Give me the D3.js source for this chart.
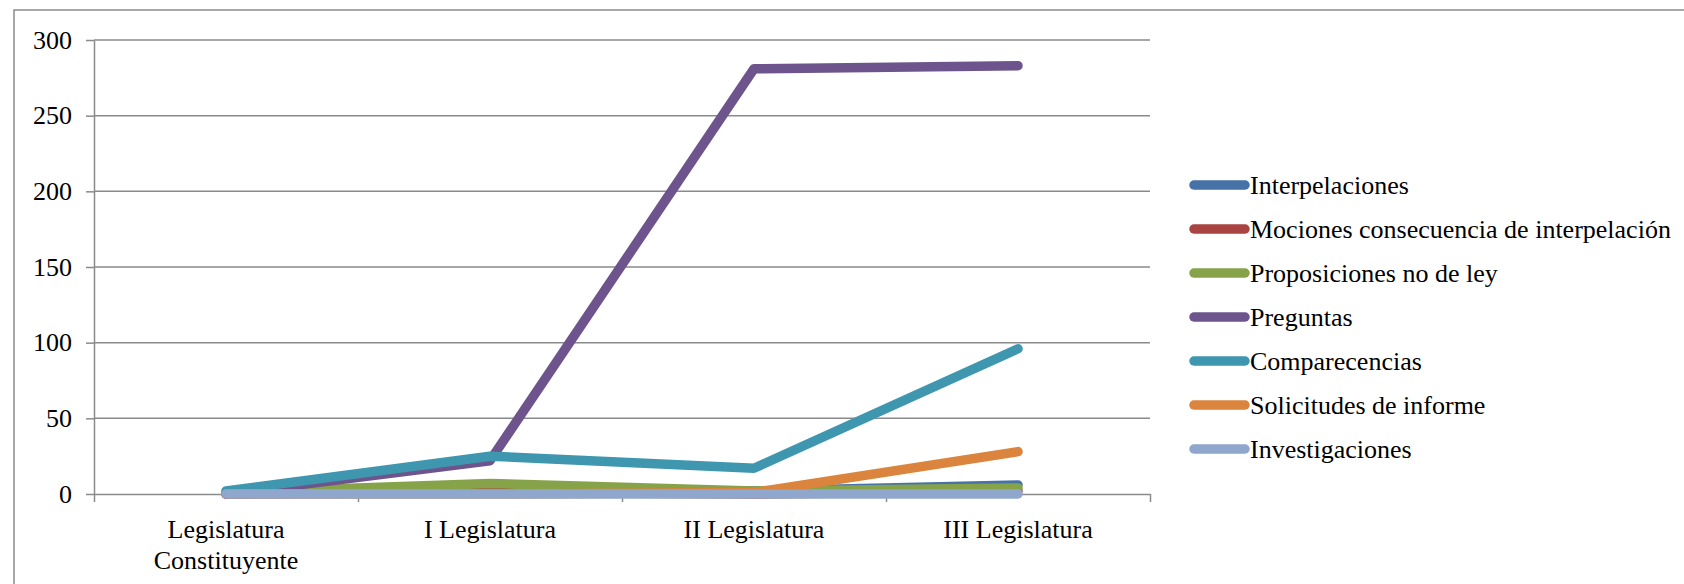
<!DOCTYPE html>
<html>
<head>
<meta charset="utf-8">
<script src="https://cdn.jsdelivr.net/npm/d3@7"></script>
<style>
  html, body { margin: 0; padding: 0; background: #fff; }
  svg { display: block; }
  text { font-family: "Liberation Serif", "Times New Roman", serif; fill: #000; }
</style>
</head>
<body>
<svg id="chart" width="1684" height="584"></svg>
<script>
// Legislative periods on the x axis
const categories = [["Legislatura", "Constituyente"], ["I Legislatura"], ["II Legislatura"], ["III Legislatura"]];

// Control instruments, one series each
const seriesNames = [
  "Interpelaciones",
  "Mociones consecuencia de interpelación",
  "Proposiciones no de ley",
  "Preguntas",
  "Comparecencias",
  "Solicitudes de informe",
  "Investigaciones"
];
const interpelaciones = [0, 2, 2, 6];
const mociones = [0, 1, 0, 2];
const proposiciones = [1, 7, 2, 4];
const preguntas = [0, 22, 281, 283];
const comparecencias = [2, 25, 17, 96];
const solicitudes = [0, 0, 1, 28];
const investigaciones = [0, 0, 0, 0];
const seriesValues = [interpelaciones, mociones, proposiciones, preguntas, comparecencias, solicitudes, investigaciones];
const seriesColors = ["#4672A8", "#A94442", "#87A34A", "#6E548D", "#3F97AF", "#DB843D", "#8FA7CC"];

const yTicks = [0, 50, 100, 150, 200, 250, 300];

const svg = d3.select("#chart");
const plotLeft = 94, plotRight = 1150, plotTop = 40, plotBottom = 494;
const gray = "#8a8a8a";

// outer frame
svg.append("rect")
  .attr("x", 14).attr("y", 10).attr("width", 1720).attr("height", 620)
  .attr("fill", "none").attr("stroke", gray).attr("stroke-width", 1.5);

const x = d3.scaleBand().domain(d3.range(categories.length)).range([plotLeft, plotRight]);
const y = d3.scaleLinear().domain([0, 300]).range([plotBottom, plotTop]);

// horizontal gridlines
svg.append("g").selectAll("line").data(yTicks.filter(t => t > 0)).join("line")
  .attr("x1", plotLeft).attr("x2", plotRight)
  .attr("y1", d => y(d)).attr("y2", d => y(d))
  .attr("stroke", gray).attr("stroke-width", 1.5);

// y axis
const yAxis = svg.append("g").attr("transform", `translate(${plotLeft},0)`)
  .call(d3.axisLeft(y).tickValues(yTicks).tickSize(8).tickPadding(14).tickSizeOuter(0));
yAxis.select(".domain").attr("stroke", gray).attr("stroke-width", 1.5);
yAxis.selectAll(".tick line").attr("stroke", gray).attr("stroke-width", 1.5);
yAxis.selectAll(".tick text").attr("font-size", 26).attr("font-family", "Liberation Serif").attr("fill", "#000");

// x axis with tick marks at category boundaries
const xb = d3.scaleLinear().domain([0, categories.length]).range([plotLeft, plotRight]);
const xAxis = svg.append("g").attr("transform", `translate(0,${plotBottom})`)
  .call(d3.axisBottom(xb).tickValues(d3.range(categories.length + 1)).tickSize(8).tickFormat("").tickSizeOuter(0));
xAxis.select(".domain").attr("stroke", gray).attr("stroke-width", 1.5);
xAxis.selectAll(".tick line").attr("stroke", gray).attr("stroke-width", 1.5);

// category labels
const cx = i => x(i) + x.bandwidth() / 2;
const lab = svg.append("g").selectAll("text").data(categories).join("text")
  .attr("x", (d, i) => cx(i)).attr("y", 538)
  .attr("text-anchor", "middle").attr("font-size", 26);
lab.selectAll("tspan").data(d => d).join("tspan")
  .attr("x", function () { return d3.select(this.parentNode).attr("x"); })
  .attr("dy", (d, i) => i === 0 ? 0 : 31)
  .text(d => d);

// series lines
const line = d3.line().x((d, i) => cx(i)).y(d => y(d));
svg.append("g").selectAll("path").data(seriesValues).join("path")
  .attr("d", d => line(d))
  .attr("fill", "none")
  .attr("stroke", (d, i) => seriesColors[i])
  .attr("stroke-width", 9.5)
  .attr("stroke-linecap", "round")
  .attr("stroke-linejoin", "round");

// legend
const legend = svg.append("g").selectAll("g").data(seriesNames).join("g")
  .attr("transform", (d, i) => `translate(0,${185 + i * 44})`);
legend.append("line")
  .attr("x1", 1194).attr("x2", 1245).attr("y1", 0).attr("y2", 0)
  .attr("stroke", (d, i) => seriesColors[i]).attr("stroke-width", 9.5).attr("stroke-linecap", "round");
legend.append("text")
  .attr("x", 1250).attr("y", 0).attr("dy", "0.35em")
  .attr("font-size", 26).text(d => d);
</script>
</body>
</html>
